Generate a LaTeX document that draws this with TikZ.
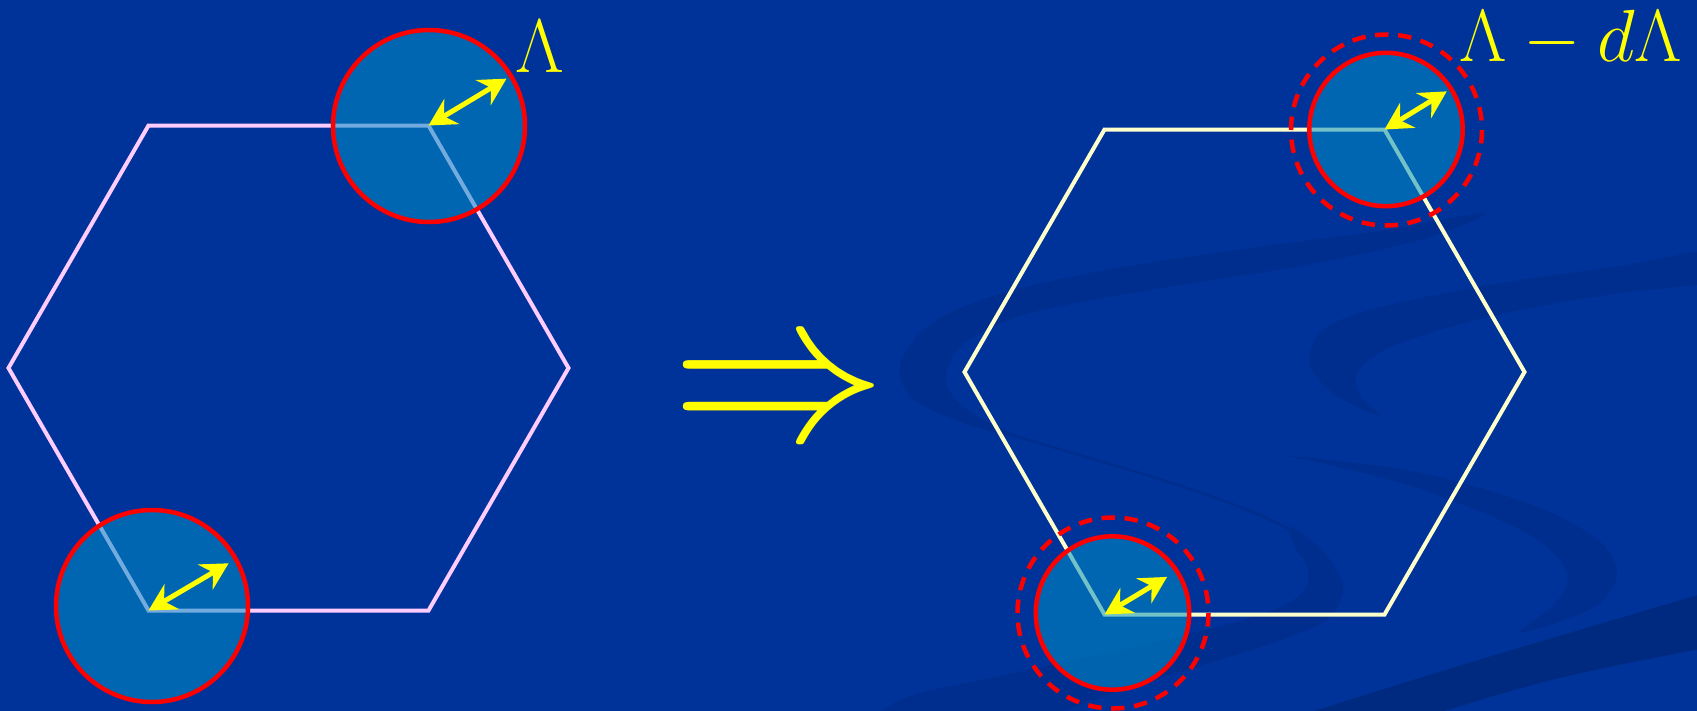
\documentclass[tikz,border=0pt]{standalone}
\usetikzlibrary{arrows.meta,calc}
\definecolor{bg}{RGB}{0,51,153}
\definecolor{swirl}{RGB}{0,46,143}
\definecolor{swirldark}{RGB}{0,41,128}
\definecolor{discfill}{RGB}{0,144,198}
\definecolor{hexpink}{RGB}{255,204,255}
\definecolor{hexcream}{RGB}{255,255,204}
\definecolor{arrowyellow}{RGB}{255,255,0}
\begin{document}
\begin{tikzpicture}[x=1pt,y=-1pt,
  hexleft/.style={draw=hexpink,line width=4pt,line join=miter},
  hexright/.style={draw=hexcream,line width=4pt,line join=miter},
  disc/.style={fill=discfill,fill opacity=0.55,draw=red,line width=4.5pt},
  ring/.style={draw=red,line width=4.5pt,dash pattern=on 13.5pt off 9.58pt},
  radius arrow/.style={draw=arrowyellow,line width=5pt,
    {Stealth[length=27pt,width=29pt,inset=9pt]}-{Stealth[length=27pt,width=29pt,inset=9pt]}},
  label/.style={text=arrowyellow,inner sep=0pt,font=\Huge}]
\useasboundingbox (0,0) rectangle (1697,710);
\fill[bg] (-10,-10) rectangle (1707,720);
\begin{scope}
\clip (-10,-10) rectangle (1707,720);
% background swirls
\fill[swirl] plot[smooth cycle,tension=0.55] coordinates {
  (1485,213) (1380,231) (1250,248) (1100,271) (990,297) (928,326) (900,365)
  (912,398) (960,422) (1020,438)
  (975,415) (950,392) (948,368) (968,340) (1030,313) (1150,290) (1300,266) (1420,240)};
\draw[swirl,line width=3pt] (1015,436) .. controls (1130,470) and (1240,500) .. (1300,535);
\fill[swirl] plot[smooth cycle,tension=0.55] coordinates {
  (1290,527) (1322,550) (1343,585) (1330,617) (1290,637) (1213,662) (1120,690)
  (1050,716) (950,745) (850,745) (900,700) (1000,676) (1130,648) (1250,618)
  (1300,595) (1308,568) (1295,548)};
\fill[swirl] plot[smooth cycle,tension=0.55] coordinates {
  (1380,416) (1335,395) (1310,365) (1318,335) (1350,316) (1420,298) (1520,280)
  (1620,266) (1720,250) (1720,280) (1620,293) (1520,310) (1440,330) (1385,350)
  (1358,372) (1360,395)};
\fill[swirl] plot[smooth cycle,tension=0.55] coordinates {
  (1290,456) (1417,472) (1533,505) (1598,540) (1617,573) (1600,603) (1560,622)
  (1520,632) (1550,608) (1567,585) (1560,560) (1517,528) (1417,488) (1330,465)};
\fill[swirldark] (1270,725) .. controls (1450,668) .. (1715,590) -- (1715,646)
  .. controls (1550,678) .. (1400,725) -- cycle;
\end{scope}
% left hexagon
\coordinate (L0) at (568.5,368);
\coordinate (L1) at (428.5,125.5);
\coordinate (L2) at (148.5,125.5);
\coordinate (L3) at (8.5,368);
\coordinate (L4) at (148.5,610.5);
\coordinate (L5) at (428.5,610.5);
\draw[hexleft] (L0) -- (L1) -- (L2) -- (L3) -- (L4) -- (L5) -- cycle;
% right hexagon
\coordinate (R0) at (1524.5,372);
\coordinate (R1) at (1384.5,129.5);
\coordinate (R2) at (1104.5,129.5);
\coordinate (R3) at (964.5,372);
\coordinate (R4) at (1104.5,614.5);
\coordinate (R5) at (1384.5,614.5);
\draw[hexright] (R0) -- (R1) -- (R2) -- (R3) -- (R4) -- (R5) -- cycle;
% discs
\draw[disc] (429,126) circle[radius=96];
\draw[disc] (152,606) circle[radius=96];
\draw[disc] (1386,129.5) circle[radius=76.7];
\draw[disc] (1112.5,613) circle[radius=76.7];
\draw[ring] (1386.5,130) circle[radius=95.5];
\draw[ring] (1113,613) circle[radius=95.5];
% radius arrows
\coordinate (aL1) at ($(L1)+(-31:91)$);
\coordinate (aL4) at ($(L4)+(-30.5:93)$);
\coordinate (aR1) at ($(R1)+(-31.5:73)$);
\coordinate (aR4) at ($(R4)+(-31:73)$);
\draw[radius arrow] (L1) -- (aL1);
\draw[radius arrow] (L4) -- (aL4);
\draw[radius arrow] (R1) -- (aR1);
\draw[radius arrow] (R4) -- (aR4);
% labels
\node[label,anchor=base,scale=3.05] (lamL) at (540,72) {$\Lambda$};
\node[label,anchor=base west,scale=2.97] (lamR) at (1459,61) {$\Lambda - d\Lambda$};
\node[label,anchor=base,scale=8.64] (impl) at (779,439) {$\Rightarrow$};
\end{tikzpicture}
\end{document}
